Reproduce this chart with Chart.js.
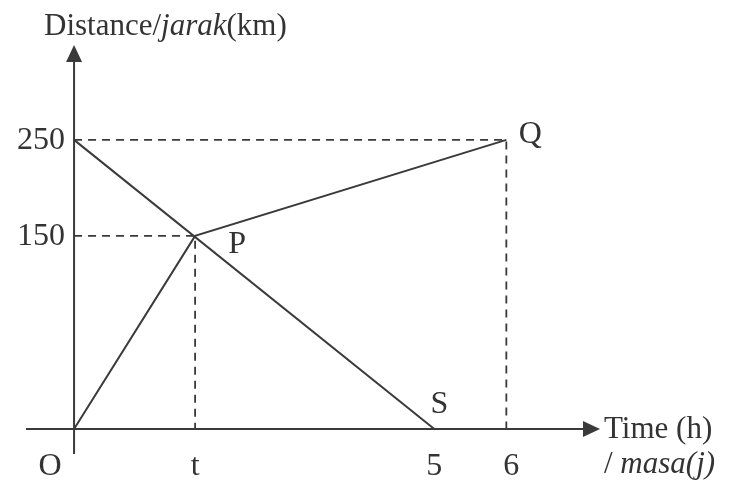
<!DOCTYPE html>
<html>
<head>
<meta charset="utf-8">
<script src="https://cdn.jsdelivr.net/npm/chart.js@4/dist/chart.umd.min.js"></script>
<style>
  html, body { margin: 0; padding: 0; background: #fff; }
  canvas { display: block; }
</style>
</head>
<body>
<canvas id="graph" width="729" height="484"></canvas>
<script>
// values as drawn in the diagram (it is not to scale, so P sits where the picture puts it)
const tValue = 1.68;
const pDistance = 167;
const pathOPQ = [{ x: 0, y: 0 }, { x: tValue, y: pDistance }, { x: 6, y: 250 }];
const pathRS = [{ x: 0, y: 250 }, { x: 5, y: 0 }];
const guideQ = [{ x: 0, y: 250 }, { x: 6, y: 250 }, { x: 6, y: 0 }];
const guideP = [{ x: 0, y: pDistance }, { x: tValue, y: pDistance }, { x: tValue, y: 0 }];

const yTickValues = [pDistance, 250];
const yTickLabels = ['150', '250'];
const xTickValues = [tValue, 5, 6];
const xTickLabels = ['t', '5', '6'];
const pointNames = ['P', 'Q', 'S'];
const pointSpots = [{ x: tValue, y: pDistance }, { x: 6, y: 250 }, { x: 5, y: 0 }];

const ink = '#3a3a3a';
const serif = '"Liberation Serif", "Times New Roman", serif';

document.addEventListener('DOMContentLoaded', () => {
    const canvas = document.getElementById('graph');

    function line(data, dashed) {
        return {
            data: data,
            showLine: true,
            borderColor: ink,
            borderWidth: dashed ? 1.8 : 2,
            borderDash: dashed ? [8, 6] : [],
            pointRadius: 0,
            tension: 0
        };
    }

    function richText(ctx, parts, x, y, size) {
        let cx = x;
        parts.forEach(([txt, italic]) => {
            ctx.font = `${italic ? 'italic ' : ''}${size}px ${serif}`;
            ctx.fillText(txt, cx, y);
            cx += ctx.measureText(txt).width;
        });
    }

    const axesPlugin = {
        id: 'axesPlugin',
        beforeDatasetsDraw(chart) {
            const ctx = chart.ctx;
            const xs = chart.scales.x;
            const ys = chart.scales.y;
            const x0 = xs.getPixelForValue(0);
            const y0 = ys.getPixelForValue(0);
            const left = xs.getPixelForValue(xs.min);
            const right = xs.getPixelForValue(xs.max);
            const top = ys.getPixelForValue(ys.max);
            const bottom = ys.getPixelForValue(ys.min);

            ctx.save();
            ctx.strokeStyle = ink;
            ctx.fillStyle = ink;
            ctx.lineWidth = 2;
            ctx.beginPath();
            ctx.moveTo(left, y0);
            ctx.lineTo(right - 14, y0);
            ctx.moveTo(x0, bottom);
            ctx.lineTo(x0, top + 14);
            ctx.stroke();

            // arrow heads
            ctx.beginPath();
            ctx.moveTo(right, y0);
            ctx.lineTo(right - 17, y0 - 8);
            ctx.lineTo(right - 17, y0 + 8);
            ctx.closePath();
            ctx.fill();
            ctx.beginPath();
            ctx.moveTo(x0, top);
            ctx.lineTo(x0 - 8, top + 17);
            ctx.lineTo(x0 + 8, top + 17);
            ctx.closePath();
            ctx.fill();
            ctx.restore();
        },
        afterDatasetsDraw(chart) {
            const ctx = chart.ctx;
            const xs = chart.scales.x;
            const ys = chart.scales.y;
            const x0 = xs.getPixelForValue(0);
            const y0 = ys.getPixelForValue(0);
            const right = xs.getPixelForValue(xs.max);
            const top = ys.getPixelForValue(ys.max);

            ctx.save();
            ctx.fillStyle = '#333';
            ctx.textBaseline = 'middle';
            ctx.font = `32px ${serif}`;

            ctx.textAlign = 'right';
            yTickValues.forEach((v, i) => {
                ctx.fillText(yTickLabels[i], x0 - 9, ys.getPixelForValue(v) + 1);
            });

            ctx.textAlign = 'center';
            xTickValues.forEach((v, i) => {
                ctx.fillText(xTickLabels[i], xs.getPixelForValue(v) + (i === 2 ? 5 : 0), y0 + 38);
            });
            ctx.fillText('O', x0 - 24, y0 + 38);

            const offsets = [[42, 9], [24, -5], [5, -24]];
            pointSpots.forEach((p, i) => {
                ctx.fillText(pointNames[i], xs.getPixelForValue(p.x) + offsets[i][0], ys.getPixelForValue(p.y) + offsets[i][1]);
            });

            ctx.textAlign = 'left';
            richText(ctx, [['Distance/', false], ['jarak', true], ['(km)', false]], 44, top - 18, 31);
            richText(ctx, [['Time (h)', false]], right + 4, y0 + 1, 31);
            richText(ctx, [['/ ', false], ['masa(j)', true]], right + 4, y0 + 36, 31);
            ctx.restore();
        }
    };

    new Chart(canvas, {
        type: 'scatter',
        data: {
            datasets: [
                line(guideQ, true),
                line(guideP, true),
                line(pathOPQ, false),
                line(pathRS, false)
            ]
        },
        options: {
            responsive: false,
            animation: false,
            layout: { padding: { left: 26, right: 129, top: 45, bottom: 30 } },
            plugins: { legend: { display: false }, tooltip: { enabled: false } },
            scales: {
                x: { type: 'linear', min: -0.667, max: 7.3, display: false },
                y: { type: 'linear', min: -21.6, max: 332, display: false }
            }
        },
        plugins: [axesPlugin]
    });
});
</script>
</body>
</html>
